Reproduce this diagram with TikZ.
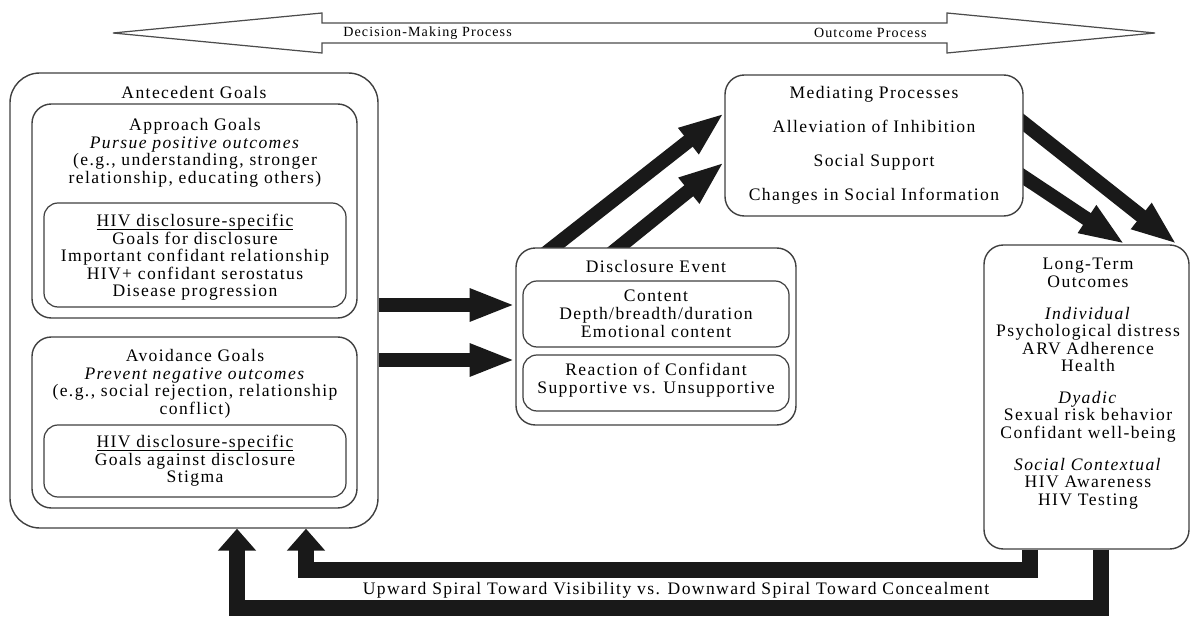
\documentclass[tikz,border=0pt]{standalone}
\usepackage{fontspec}
\setmainfont{Liberation Serif}[LetterSpace=8]
\usetikzlibrary{arrows.meta,fit,calc,backgrounds}

\newcommand{\hivul}[1]{\setbox0=\hbox{#1}\rlap{\rule[-1.6pt]{\wd0}{0.5pt}}\box0}

\tikzset{
  box/.style={draw=black!75, line width=0.8pt, fill=white, rounded corners=11pt, inner sep=0pt},
  bigbox/.style={box, rounded corners=17pt},
  subbox/.style={box, line width=0.7pt, rounded corners=8pt},
  txt/.style={align=center, anchor=north, inner sep=0pt, font=\fontsize{10}{10}\selectfont},
  smalltxt/.style={inner sep=0pt, font=\fontsize{8}{8}\selectfont},
  fatarrow/.style={line width=8pt, black!90, -{Triangle[length=26pt,width=17pt]}},
  looparrow/.style={line width=9pt, black!90, line join=miter, -{Triangle[length=12.5pt,width=21pt]}},
}

\begin{document}
\begin{tikzpicture}[x=0.02cm, y=-0.02cm]
    \useasboundingbox (0,0) rectangle (1192,617);

    % Process arrow on top
    \draw[black!70, line width=0.7pt] (113,33) -- (322,13) -- (322,23) -- (947,23) -- (947,13)
        -- (1155,33) -- (947,53) -- (947,43) -- (322,43) -- (322,53) -- cycle;
    \node[smalltxt, anchor=west] (decision) at (343,33) {Decision-Making Process};
    \node[smalltxt, anchor=east] (outcome) at (927,33) {Outcome Process};

    % Antecedent goals
    \node[bigbox, fit={(10,73) (378,528)}] (antecedent) {};
    \node[txt] (antetitle) at (194,86) {Antecedent Goals};

    \node[box, fit={(32,104) (357,318)}] (approach) {};
    \node[txt] (approachtxt) at (195,118) {Approach Goals\\\textit{Pursue positive outcomes}\\(e.g., understanding, stronger\\relationship, educating others)};
    \node[subbox, fit={(44,203) (346,307)}] (approachhiv) {};
    \node[txt] (approachhivtxt) at (195,214) {\hivul{HIV disclosure-specific}\\Goals for disclosure\\Important confidant relationship\\HIV+ confidant serostatus\\Disease progression};

    \node[box, fit={(32,337) (357,508)}] (avoidance) {};
    \node[txt] (avoidancetxt) at (195,349) {Avoidance Goals\\\textit{Prevent negative outcomes}\\(e.g., social rejection, relationship\\conflict)};
    \node[subbox, fit={(44,425) (346,497)}] (avoidancehiv) {};
    \node[txt] (avoidancehivtxt) at (195,435) {\hivul{HIV disclosure-specific}\\Goals against disclosure\\Stigma};

    % Disclosure event
    \node[box, fit={(516,248) (796,425)}] (disclosure) {};
    \node[txt] (disclosuretitle) at (656,260) {Disclosure Event};
    \node[subbox, fit={(523,281) (789,347)}] (content) {};
    \node[txt] (contenttxt) at (656,290) {Content\\Depth/breadth/duration\\Emotional content};
    \node[subbox, fit={(523,355) (789,411)}] (reaction) {};
    \node[txt] (reactiontxt) at (656,363) {Reaction of Confidant\\Supportive vs. Unsupportive};

    % Mediating processes
    \node[box, fit={(725,75) (1023,216)}] (mediating) {};
    \node[txt] (mediatingtxt) at (874,86) {Mediating Processes\\[9.3pt]Alleviation of Inhibition\\[9.3pt]Social Support\\[9.3pt]Changes in Social Information};

    % Long-term outcomes
    \node[box, fit={(984,245) (1189,549)}] (longterm) {};
    \node[txt] (longtermtxt) at (1088,258) {Long-Term\\Outcomes\\[8pt]\textit{Individual}\\Psychological distress\\ARV Adherence\\Health\\[8pt]\textit{Dyadic}\\Sexual risk behavior\\Confidant well-being\\[8pt]\textit{Social Contextual}\\HIV Awareness\\HIV Testing};

    % Arrows between the stages
    \begin{scope}[on background layer]
        \draw[fatarrow] (antecedent.east |- 0,305) -- (disclosure.west |- 0,305);
        \draw[fatarrow] (antecedent.east |- 0,360) -- (disclosure.west |- 0,360);
        \draw[fatarrow] ($(disclosure.north -| 553,0)+(-10,8)$) -- (mediating.west |- 0,113);
        \draw[fatarrow] ($(disclosure.north -| 619,0)+(-10,8)$) -- (mediating.west |- 0,162);
        \draw[fatarrow] ($(mediating.east |- 0,123)+(-10,-8)$) -- (longterm.north -| 1177,0);
        \draw[fatarrow] ($(mediating.east |- 0,177)+(-12,-8)$) -- (longterm.north -| 1125,0);
    \end{scope}

    % Feedback loops
    \draw[looparrow] (longterm.south -| 1030,0) |- (306,570) -- (antecedent.south -| 306,0);
    \draw[looparrow] (longterm.south -| 1101,0) |- (237,608) -- (antecedent.south -| 237,0);
    \node[inner sep=0pt, font=\fontsize{10}{10}\selectfont] (spiral) at (676,590) {Upward Spiral Toward Visibility vs. Downward Spiral Toward Concealment};
\end{tikzpicture}
\end{document}
